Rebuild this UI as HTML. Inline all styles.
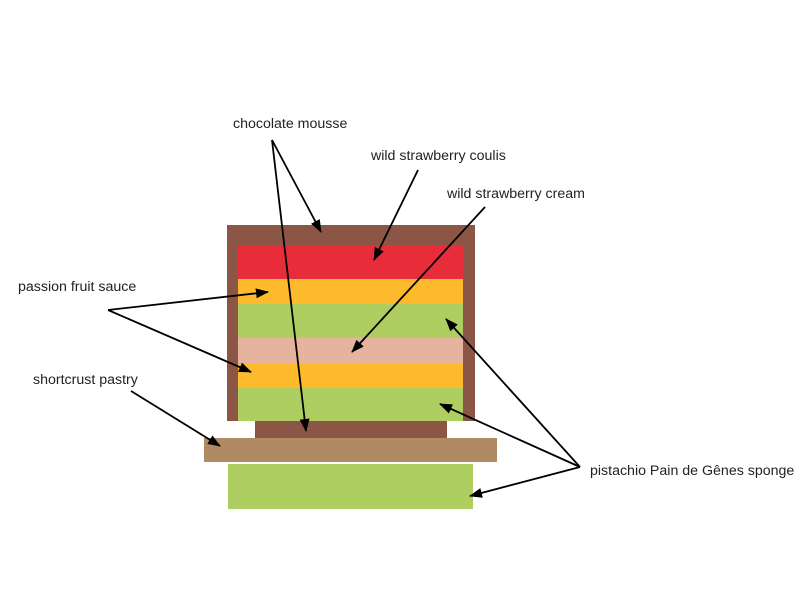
<!DOCTYPE html>
<html><head><meta charset="utf-8"><style>
html,body{margin:0;padding:0;background:#fff;}
svg{display:block}
text{font-family:"Liberation Sans",sans-serif;font-size:14.2px;fill:#222}
</style></head><body>
<svg width="812" height="612" viewBox="0 0 812 612" xmlns="http://www.w3.org/2000/svg">
<defs><marker id="a" markerWidth="13" markerHeight="10" refX="12" refY="5" orient="auto" markerUnits="userSpaceOnUse"><path d="M0,0 L13,5 L0,10 z" fill="#000"/></marker></defs>
<rect x="227" y="225" width="248" height="196" fill="#8B5646"/>
<rect x="238" y="245" width="225" height="34" fill="#E82D3A"/>
<rect x="238" y="279" width="225" height="25" fill="#FCBA2C"/>
<rect x="238" y="304" width="225" height="34" fill="#AECE62"/>
<rect x="238" y="338" width="225" height="25" fill="#E6B49E"/>
<rect x="238" y="363" width="225" height="25" fill="#FCBA2C"/>
<rect x="238" y="388" width="225" height="33" fill="#AECE62"/>
<rect x="255" y="421" width="192" height="17" fill="#8B5646"/>
<rect x="204" y="438" width="293" height="24" fill="#B08A62"/>
<rect x="228" y="464" width="245" height="45" fill="#AECE62"/>
<g stroke="#000" stroke-width="1.8" fill="none" marker-end="url(#a)">
<line x1="272" y1="140" x2="321" y2="232"/>
<line x1="272" y1="140" x2="306" y2="431"/>
<line x1="418" y1="170" x2="374" y2="260"/>
<line x1="485" y1="207" x2="352" y2="352"/>
<line x1="108" y1="310" x2="268" y2="292"/>
<line x1="108" y1="310" x2="251" y2="372"/>
<line x1="131" y1="391" x2="220" y2="446"/>
<line x1="580" y1="467" x2="446" y2="319"/>
<line x1="580" y1="467" x2="440" y2="404"/>
<line x1="580" y1="467" x2="470" y2="496"/>
</g>
<text x="233" y="128">chocolate mousse</text>
<text x="371" y="160">wild strawberry coulis</text>
<text x="447" y="198">wild strawberry cream</text>
<text x="18" y="291">passion fruit sauce</text>
<text x="33" y="384">shortcrust pastry</text>
<text x="590" y="475">pistachio Pain de Gênes sponge</text>
</svg>
</body></html>
